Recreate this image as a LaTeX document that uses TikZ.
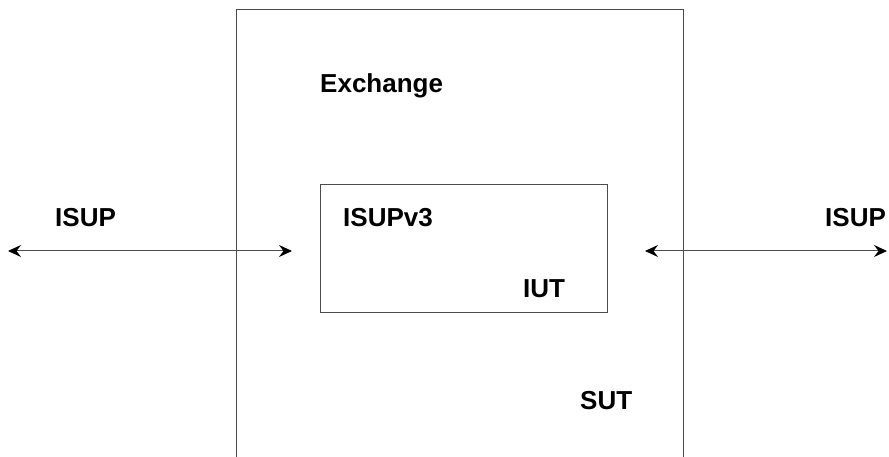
\documentclass[tikz,border=0pt]{standalone}
\usepackage{fontspec}
\setmainfont{Liberation Sans}
\usetikzlibrary{arrows.meta}
\begin{document}
\begin{tikzpicture}[x=1pt,y=-1pt,
  lbl/.style={font=\fontsize{26}{30}\selectfont\bfseries, inner sep=0pt, anchor=base west},
  frame/.style={draw=black!70, line width=1pt},
  tip/.style={Stealth[length=13pt,width=12pt,inset=4.5pt,black]},
  link/.style={draw=black!70, line width=1pt, {Stealth[length=13pt,width=12pt,inset=4.5pt,black]}-{Stealth[length=13pt,width=12pt,inset=4.5pt,black]}}]
  \useasboundingbox (0,0) rectangle (889,457);
  % outer exchange box (open at the bottom, cut off by the page edge)
  \coordinate (obl) at (236.5,457);
  \coordinate (otl) at (236.5,10);
  \coordinate (otr) at (683,10);
  \coordinate (obr) at (683,457);
  \draw[frame] (obl) -- (otl) -- (otr) -- (obr);
  % inner IUT box
  \node[frame, minimum width=287pt, minimum height=127pt, inner sep=0pt, anchor=north west] (iutbox) at (320,184.5) {};
  % texts
  \node[lbl] (exchange) at (320,93) {Exchange};
  \node[lbl] (isupl) at (55,227) {ISUP};
  \node[lbl] (isupv3) at (343,227) {ISUPv3};
  \node[lbl] (iut) at (523,297) {IUT};
  \node[lbl] (sut) at (580,409) {SUT};
  \node[lbl] (isupr) at (825,227) {ISUP};
  % arrows
  \coordinate (la) at (8,251);
  \coordinate (lb) at (292,251);
  \coordinate (ra) at (645,251);
  \coordinate (rb) at (887,251);
  \draw[link] (la) -- (lb);
  \draw[link] (ra) -- (rb);
\end{tikzpicture}
\end{document}
